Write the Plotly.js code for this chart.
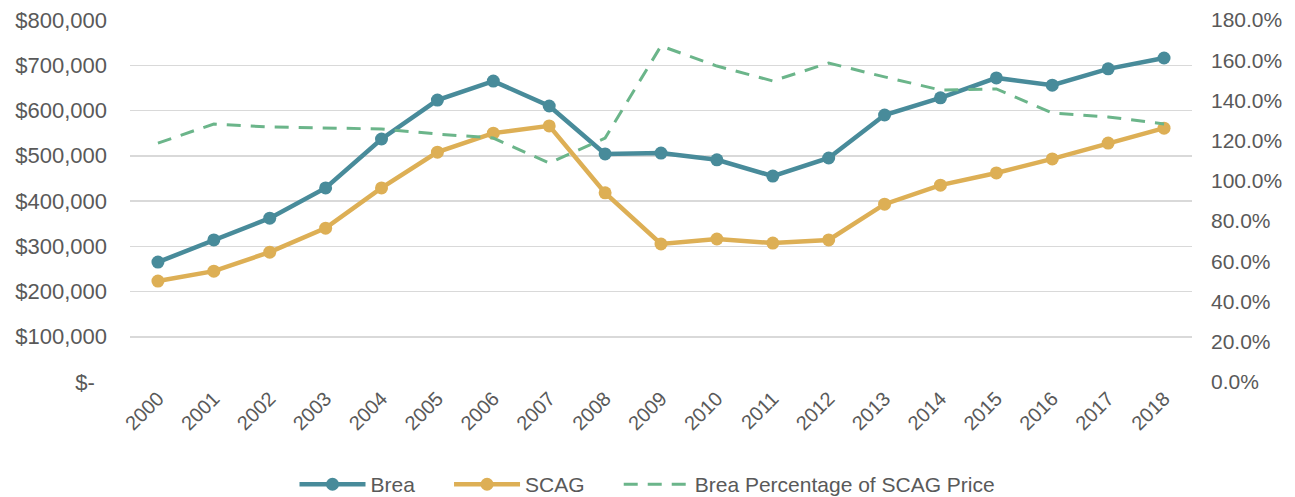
<!DOCTYPE html>
<html>
<head>
<meta charset="utf-8">
<script src="https://cdn.plot.ly/plotly-3.0.1.min.js"></script>
<style>html,body{margin:0;padding:0;background:#fff;}#chart{width:1295px;height:497px;}</style>
</head>
<body>
<div id="chart"></div>
<script>
const years = ["2000","2001","2002","2003","2004","2005","2006","2007","2008","2009","2010","2011","2012","2013","2014","2015","2016","2017","2018"];
const brea = [265000,314000,362000,429000,537000,623000,665000,610000,504000,506000,491000,455000,495000,590000,628000,672000,656000,692000,716000];
const scag = [223000,245000,287000,340000,429000,508000,550000,566000,418000,305000,316000,307000,314000,393000,435000,462000,493000,528000,561000];
const pct = [1.188,1.283,1.268,1.263,1.258,1.233,1.213,1.089,1.213,1.671,1.571,1.497,1.586,1.517,1.452,1.457,1.338,1.318,1.283];
const seriesNames = ["Brea", "SCAG", "Brea Percentage of SCAG Price"];
const leftTicks = [0,100000,200000,300000,400000,500000,600000,700000,800000];
const leftLabels = ["$-\u00a0\u00a0","$100,000","$200,000","$300,000","$400,000","$500,000","$600,000","$700,000","$800,000"];
const rightTicks = [0,0.2,0.4,0.6,0.8,1.0,1.2,1.4,1.6,1.8];

const fam = "Liberation Sans, Arial, sans-serif";
const grey = "#595959";
const pad = "\u00a0\u00a0\u00a0\u00a0\u00a0";

const traces = [
  {x: years, y: brea, name: seriesNames[0] + pad, type: "scatter", mode: "lines+markers",
   line: {color: "#488B9A", width: 4.5}, marker: {color: "#488B9A", size: 13}},
  {x: years, y: scag, name: seriesNames[1] + pad, type: "scatter", mode: "lines+markers",
   line: {color: "#DDAF55", width: 4.5}, marker: {color: "#DDAF55", size: 13}},
  {x: years, y: pct, name: seriesNames[2], type: "scatter", mode: "lines",
   yaxis: "y2", line: {color: "#6BB58A", width: 3, dash: "14px,10px"}}
];

const layout = {
  width: 1295, height: 497,
  margin: {l: 130, r: 103, t: 20, b: 115},
  paper_bgcolor: "#fff", plot_bgcolor: "#fff",
  font: {family: fam, size: 20, color: grey},
  showlegend: true,
  legend: {orientation: "h", x: 0.5, xref: "container", xanchor: "center",
           y: 0.025, yref: "container", yanchor: "middle",
           font: {family: fam, size: 21, color: grey}, itemwidth: 66,
           traceorder: "normal"},
  xaxis: {type: "category", range: [-0.5, 18.5], tickangle: -45, showgrid: false, zeroline: false,
          showline: false, ticks: "", automargin: false,
          tickfont: {size: 20, color: grey, family: fam}},
  yaxis: {range: [0, 800000], tickvals: leftTicks, ticktext: leftLabels, showgrid: true,
          gridcolor: "#D9D9D9", gridwidth: 1.5, zeroline: false, showline: false, ticks: "",
          automargin: false, ticklabelstandoff: 22,
          tickfont: {size: 22, color: grey, family: fam}},
  yaxis2: {overlaying: "y", side: "right", range: [0, 1.8], tickvals: rightTicks, tickformat: ".1%",
           showgrid: false, zeroline: false, showline: false, ticks: "", automargin: false,
           ticklabelstandoff: 18,
           tickfont: {size: 21, color: grey, family: fam}}
};

Plotly.newPlot("chart", traces, layout, {displayModeBar: false, staticPlot: true});
</script>
</body>
</html>
